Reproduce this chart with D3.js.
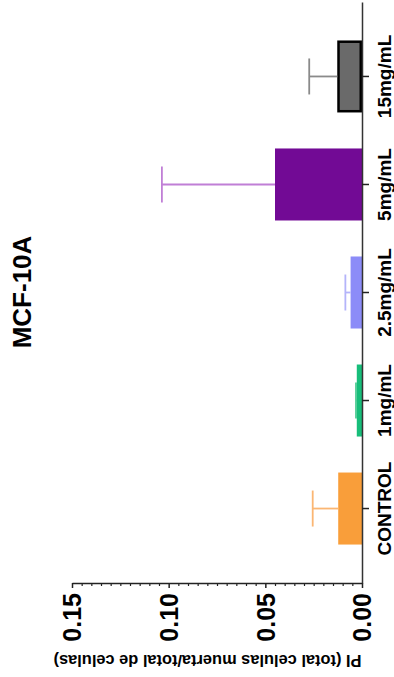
<!DOCTYPE html>
<html>
<head>
<meta charset="utf-8">
<script src="https://cdn.jsdelivr.net/npm/d3@7"></script>
<style>
  html, body { margin: 0; padding: 0; background: #fff; }
  svg { display: block; }
</style>
</head>
<body>
<svg id="chart" width="394" height="677"></svg>
<script>
// Dead-cell fraction (PI staining) for MCF-10A after each treatment
const categories = ["CONTROL", "1mg/mL", "2.5mg/mL", "5mg/mL", "15mg/mL"];
const means      = [0.0123, 0.0027, 0.0059, 0.0450, 0.0128];
const sds        = [0.0132, 0.0004, 0.0027, 0.0585, 0.0145];
const majorTicks = [0.00, 0.05, 0.10, 0.15];
const barColors  = ["#F99E3A", "#17BE7A", "#8C8CF8", "#720A95", "#6A6A6A"];
const errColors  = ["#FBB673", "#4ACB92", "#B4B4FA", "#C07FD6", "#8A8A8A"];
const titleText  = "MCF-10A";
const axisTitle  = "PI (total celulas muerta/total de celulas)";

const FONT = "'Liberation Sans', Arial, Helvetica, sans-serif";
const svg = d3.select("#chart").attr("font-family", FONT);

// Chart is laid out turned a quarter-turn: values run right-to-left along the bottom,
// groups stack bottom-to-top along the right-hand axis.
const x = d3.scaleLinear().domain([0, 0.15]).range([362, 72]);
const y = d3.scaleBand().domain(categories).range([583, 2])
  .paddingInner(1 / 3).paddingOuter(0.356);

// Bars
const g = svg.append("g");
categories.forEach((c, i) => {
  const isOutlined = i === 4;
  const inset = isOutlined ? 1.25 : 0;
  g.append("rect")
    .attr("x", x(means[i]) + inset)
    .attr("y", y(c) + inset)
    .attr("width", x(0) - x(means[i]) - 2 * inset)
    .attr("height", y.bandwidth() - 2 * inset)
    .attr("fill", barColors[i])
    .attr("stroke", isOutlined ? "#000" : "none")
    .attr("stroke-width", isOutlined ? 2.5 : 0);
});

// Error bars (upper side only)
categories.forEach((c, i) => {
  const cy = y(c) + y.bandwidth() / 2;
  const xEnd = x(means[i] + sds[i]);
  g.append("line")
    .attr("x1", x(means[i])).attr("x2", xEnd)
    .attr("y1", cy).attr("y2", cy)
    .attr("stroke", errColors[i]).attr("stroke-width", 1.8);
  g.append("line")
    .attr("x1", xEnd).attr("x2", xEnd)
    .attr("y1", cy - 18).attr("y2", cy + 18)
    .attr("stroke", errColors[i]).attr("stroke-width", 1.8);
});

// Value axis with minor ticks
const minorTicks = d3.range(0, 151, 5).map(v => v / 1000)
  .filter(v => !majorTicks.some(m => Math.abs(m - v) < 1e-9));

const minorAxis = svg.append("g")
  .attr("transform", "translate(0,583)")
  .call(d3.axisBottom(x).tickValues(minorTicks).tickSize(3).tickSizeOuter(0).tickFormat(""));
minorAxis.select(".domain").remove();
minorAxis.selectAll("line").attr("stroke", "#222").attr("stroke-width", 1.2);

const valueAxis = svg.append("g")
  .attr("transform", "translate(0,583)")
  .call(d3.axisBottom(x).tickValues(majorTicks).tickSize(5).tickSizeOuter(0)
    .tickFormat(d3.format(".2f")))
  .attr("font-family", FONT);
valueAxis.select(".domain").attr("stroke", "#222").attr("stroke-width", 1.5);
valueAxis.selectAll(".tick line").attr("stroke", "#222").attr("stroke-width", 1.5);
valueAxis.selectAll(".tick text")
  .attr("transform", "rotate(-90)")
  .attr("x", -10).attr("y", 0).attr("dy", "0.35em")
  .attr("text-anchor", "end")
  .attr("fill", "#000")
  .style("font-size", "25px").style("font-weight", "bold");

// Category axis
const catAxis = svg.append("g")
  .attr("transform", "translate(362,0)")
  .call(d3.axisRight(y).tickSize(7).tickSizeOuter(0))
  .attr("font-family", FONT);
catAxis.select(".domain").attr("stroke", "#333").attr("stroke-width", 1.5);
catAxis.selectAll(".tick line").attr("stroke", "#222").attr("stroke-width", 1.5);
catAxis.selectAll(".tick text")
  .attr("transform", "rotate(-90)")
  .attr("x", 0).attr("y", 28.5).attr("dy", 0)
  .attr("text-anchor", "middle")
  .attr("fill", "#000")
  .style("font-size", "19px").style("font-weight", "bold");

// Title
svg.append("text")
  .attr("transform", "translate(31,292) rotate(-90)")
  .attr("text-anchor", "middle")
  .style("font-size", "26px").style("font-weight", "bold")
  .text(titleText);

// Value axis title (reads upside down in this orientation)
svg.append("text")
  .attr("transform", "translate(207.5,655) rotate(180)")
  .attr("text-anchor", "middle")
  .style("font-size", "16.4px").style("font-weight", "bold")
  .text(axisTitle);
</script>
</body>
</html>
